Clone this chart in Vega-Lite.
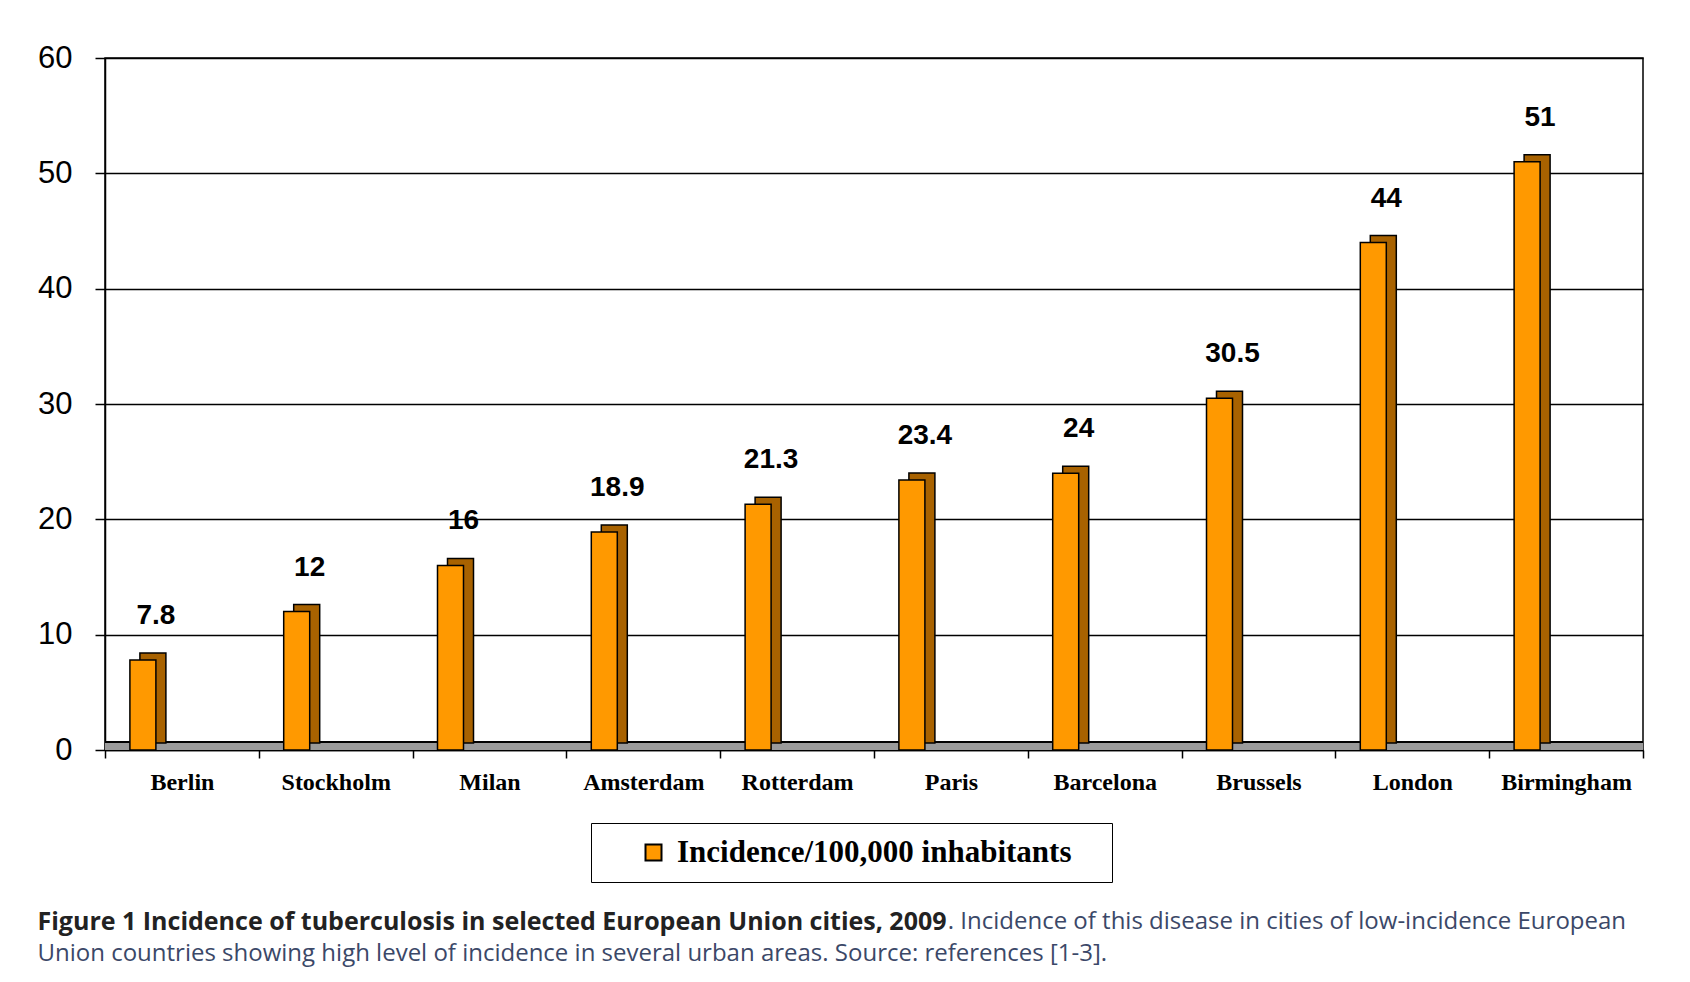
{
  "$schema": "https://vega.github.io/schema/vega-lite/v6.json",
  "width": 1538,
  "height": 692,
  "padding": {"left": 37, "top": 42, "right": 5, "bottom": 5},
  "background": "white",
  "data": {
    "values": [
      {"city": "Berlin", "value": 7.8, "series": "Incidence/100,000 inhabitants"},
      {"city": "Stockholm", "value": 12, "series": "Incidence/100,000 inhabitants"},
      {"city": "Milan", "value": 16, "series": "Incidence/100,000 inhabitants"},
      {"city": "Amsterdam", "value": 18.9, "series": "Incidence/100,000 inhabitants"},
      {"city": "Rotterdam", "value": 21.3, "series": "Incidence/100,000 inhabitants"},
      {"city": "Paris", "value": 23.4, "series": "Incidence/100,000 inhabitants"},
      {"city": "Barcelona", "value": 24, "series": "Incidence/100,000 inhabitants"},
      {"city": "Brussels", "value": 30.5, "series": "Incidence/100,000 inhabitants"},
      {"city": "London", "value": 44, "series": "Incidence/100,000 inhabitants"},
      {"city": "Birmingham", "value": 51, "series": "Incidence/100,000 inhabitants"}
    ]
  },
  "title": {
    "text": "Figure 1 Incidence of tuberculosis in selected European Union cities, 2009",
    "subtitle": [
      "\u200b\u00a0\u00a0\u00a0\u00a0\u00a0\u00a0\u00a0\u00a0\u00a0\u00a0\u00a0\u00a0\u00a0\u00a0\u00a0\u00a0\u00a0\u00a0\u00a0\u00a0\u00a0\u00a0\u00a0\u00a0\u00a0\u00a0\u00a0\u00a0\u00a0\u00a0\u00a0\u00a0\u00a0\u00a0\u00a0\u00a0\u00a0\u00a0\u00a0\u00a0\u00a0\u00a0\u00a0\u00a0\u00a0\u00a0\u00a0\u00a0\u00a0\u00a0\u00a0\u00a0\u00a0\u00a0\u00a0\u00a0\u00a0\u00a0\u00a0\u00a0\u00a0\u00a0\u00a0\u00a0\u00a0\u00a0\u00a0\u00a0\u00a0\u00a0\u00a0\u00a0\u00a0\u00a0\u00a0\u00a0\u00a0\u00a0\u00a0\u00a0\u00a0\u00a0\u00a0\u00a0\u00a0\u00a0\u00a0\u00a0\u00a0\u00a0\u00a0\u00a0\u00a0\u00a0\u00a0\u00a0\u00a0\u00a0\u00a0\u00a0\u00a0\u00a0\u00a0\u00a0\u00a0\u00a0\u00a0\u00a0\u00a0\u00a0\u00a0\u00a0\u00a0\u00a0\u00a0\u00a0\u00a0\u00a0\u00a0\u00a0\u00a0\u00a0\u00a0\u00a0\u00a0\u00a0\u00a0\u00a0\u00a0\u00a0\u00a0\u00a0\u00a0\u00a0\u00a0\u00a0\u00a0\u00a0\u00a0\u00a0\u00a0\u00a0\u00a0\u00a0\u00a0\u00a0. Incidence of this disease in cities of low-incidence European",
      "Union countries showing high level of incidence in several urban areas. Source: references [1-3]."
    ],
    "orient": "bottom",
    "anchor": "start",
    "frame": "bounds",
    "font": "Open Sans",
    "fontSize": 25,
    "fontWeight": "bold",
    "color": "#222222",
    "subtitleFont": "Open Sans",
    "subtitleFontSize": 24,
    "subtitleFontWeight": "normal",
    "subtitleColor": "#3b4868",
    "subtitleLineHeight": 32,
    "subtitlePadding": -25,
    "offset": 27,
    "dx": 0
  },
  "layer": [
    {
      "mark": {"type": "rule", "color": "#9a9a9a", "strokeWidth": 8, "yOffset": -4},
      "encoding": {"y": {"datum": 0, "type": "quantitative"}}
    },
    {
      "mark": {"type": "rule", "color": "black", "strokeWidth": 1.5, "yOffset": -8},
      "encoding": {"y": {"datum": 0, "type": "quantitative"}}
    },
    {
      "mark": {"type": "bar", "width": 26, "xOffset": -29, "yOffset": -7, "color": "#A86200", "stroke": "black", "strokeWidth": 1.5},
      "encoding": {
        "x": {"field": "city", "type": "nominal", "sort": null, "title": null, "scale": {"paddingInner": 0, "paddingOuter": 0}},
        "y": {"field": "value", "type": "quantitative", "title": null, "scale": {"domain": [0, 60]}, "axis": {"values": [0, 10, 20, 30, 40, 50, 60]}}
      }
    },
    {
      "mark": {"type": "bar", "width": 26, "xOffset": -39, "stroke": "black", "strokeWidth": 1.5},
      "encoding": {
        "x": {"field": "city", "type": "nominal", "sort": null, "title": null},
        "y": {"field": "value", "type": "quantitative", "title": null, "axis": {"values": [0, 10, 20, 30, 40, 50, 60]}},
        "color": {
          "field": "series",
          "type": "nominal",
          "scale": {"range": ["#FF9900"]},
          "legend": {
            "title": "\u00a0",
            "titleOrient": "right",
            "titlePadding": 27,
            "titleFontSize": 10,
            "orient": "none",
            "legendX": 486,
            "legendY": 765,
            "padding": 14,
            "symbolOffset": 33,
            "strokeColor": "black",
            "symbolType": "square",
            "symbolSize": 256,
            "symbolStrokeColor": "black",
            "symbolStrokeWidth": 2,
            "labelFont": "Liberation Serif",
            "labelFontSize": 31,
            "labelFontWeight": "bold",
            "labelColor": "black",
            "labelOffset": 8,
            "labelLimit": 600
          }
        }
      }
    },
    {
      "mark": {"type": "text", "xOffset": -26, "dy": -36, "baseline": "alphabetic", "font": "Liberation Sans", "fontWeight": "bold", "fontSize": 28, "color": "black"},
      "encoding": {
        "x": {"field": "city", "type": "nominal", "sort": null, "title": null},
        "y": {"field": "value", "type": "quantitative", "title": null},
        "text": {"field": "value", "type": "quantitative"}
      }
    }
  ],
  "config": {
    "view": {"stroke": "black", "strokeWidth": 1.5},
    "axisX": {
      "labelAngle": 0,
      "labelFont": "Liberation Serif",
      "labelFontWeight": "bold",
      "labelFontSize": 24,
      "labelColor": "black",
      "labelPadding": 12,
      "tickBand": "extent",
      "tickSize": 8,
      "tickColor": "black",
      "tickWidth": 1.5,
      "domainColor": "black",
      "domainWidth": 1.5,
      "grid": false
    },
    "axisY": {
      "labelFont": "Liberation Sans",
      "labelFontSize": 31,
      "labelColor": "black",
      "labelPadding": 23,
      "tickSize": 10,
      "tickColor": "black",
      "tickWidth": 1.5,
      "domainColor": "black",
      "domainWidth": 1.5,
      "grid": true,
      "gridColor": "black",
      "gridWidth": 1.5
    }
  }
}
